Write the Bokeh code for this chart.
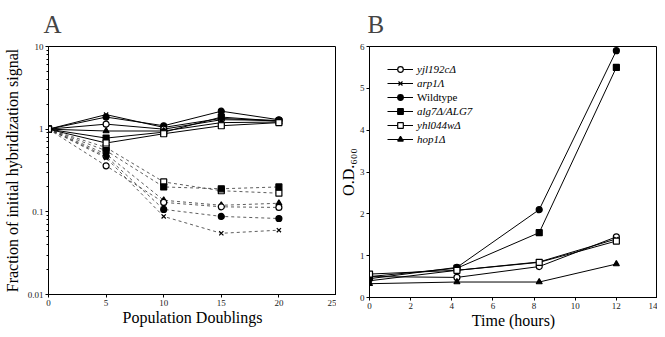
from bokeh.plotting import figure
from bokeh.layouts import row
from bokeh.models import FixedTicker, Legend, LegendItem
from bokeh.embed import file_html
from bokeh.resources import INLINE

SERIF = "Liberation Serif"

# ---------------- Panel A data ----------------
doublings = [0, 5, 10, 15, 20]
# solid (control) series
a_solid_cross = [1, 1.5, 1.05, 1.35, 1.25]
a_solid_fcircle = [1, 1.4, 1.1, 1.65, 1.3]
a_solid_ocircle = [1, 1.15, 1.0, 1.3, 1.28]
a_solid_triangle = [1, 0.95, 0.95, 1.2, 1.22]
a_solid_fsquare = [1, 0.78, 0.92, 1.4, 1.25]
a_solid_osquare = [1, 0.68, 0.88, 1.1, 1.2]
# dashed series
a_dash_osquare = [1, 0.6, 0.23, 0.18, 0.168]
a_dash_fsquare = [1, 0.55, 0.2, 0.19, 0.2]
a_dash_triangle = [1, 0.5, 0.138, 0.12, 0.127]
a_dash_ocircle = [1, 0.36, 0.13, 0.115, 0.113]
a_dash_fcircle = [1, 0.47, 0.107, 0.088, 0.083]
a_dash_cross = [1, 0.45, 0.088, 0.055, 0.06]

a_yticks = [0.01, 0.1, 1, 10]
a_ytick_labels = ["0.01", "0.1", "1", "10"]
a_xticks = [0, 5, 10, 15, 20, 25]

# ---------------- Panel B data ----------------
hours = [0, 4.25, 8.25, 12]
b_names = ["yjl192cΔ", "arp1Λ", "Wildtype", "alg7Δ/ALG7", "yhl044wΔ", "hop1Δ"]
b_yjl192c = [0.5, 0.48, 0.74, 1.45]
b_arp1 = [0.4, 0.65, 0.85, 1.4]
b_wildtype = [0.45, 0.72, 2.1, 5.9]
b_alg7 = [0.5, 0.7, 1.55, 5.5]
b_yhl044w = [0.56, 0.65, 0.84, 1.35]
b_hop1 = [0.33, 0.37, 0.37, 0.8]
b_xticks = [0, 2, 4, 6, 8, 10, 12, 14]
b_yticks = [0, 1, 2, 3, 4, 5, 6]

MARKERS = {
    "ocircle": ("circle", "white"),
    "fcircle": ("circle", "black"),
    "cross": ("x", "black"),
    "fsquare": ("square", "black"),
    "osquare": ("square", "white"),
    "triangle": ("triangle", "black"),
}


def style_axes(p):
    for ax in (p.xaxis[0], p.yaxis[0]):
        ax.axis_line_color = "black"
        ax.major_tick_line_color = "black"
        ax.minor_tick_line_color = "black"
        ax.major_tick_in = 0
        ax.major_tick_out = 3
        ax.minor_tick_in = 0
        ax.minor_tick_out = 2
        ax.major_label_text_font = SERIF
        ax.major_label_text_font_size = "9px"
        ax.major_label_text_color = "#222222"
        ax.major_label_standoff = 2
        ax.axis_label_text_font = SERIF
        ax.axis_label_text_font_size = "16px"
        ax.axis_label_text_font_style = "normal"
        ax.axis_label_text_color = "black"
        ax.axis_label_standoff = 0
    p.xgrid.visible = False
    p.ygrid.visible = False
    p.outline_line_color = "black"
    p.outline_line_width = 1
    p.title.text_font = SERIF
    p.title.text_font_size = "25px"
    p.title.text_font_style = "normal"
    p.title.align = "left"
    p.title.standoff = 17


def series(p, x, y, kind, dash="solid", size=6, lw=1, color="black"):
    marker, fill = MARKERS[kind]
    ln = p.line(x, y, line_color=color, line_width=lw, line_dash=dash)
    sc = p.scatter(x, y, marker=marker, size=size, fill_color=fill,
                   line_color="black", line_width=1.2)
    return ln, sc


# ---------------- Panel A ----------------
pA = figure(frame_width=288, frame_height=248, output_backend="svg",
            toolbar_location=None,
            x_range=(0, 25), y_range=(0.01, 10), y_axis_type="log",
            title="A", min_border_left=0, min_border_right=0,
            min_border_top=0, min_border_bottom=0)
style_axes(pA)
pA.title.offset = -5
pA.xaxis.ticker = FixedTicker(ticks=a_xticks)
pA.xaxis.minor_tick_line_color = None
minor = []
for d in [0.01, 0.1, 1]:
    minor += [d * k for k in range(2, 10)]
pA.yaxis.ticker = FixedTicker(ticks=a_yticks, minor_ticks=minor)
pA.yaxis.major_label_overrides = {t: s for t, s in zip(a_yticks, a_ytick_labels)}
pA.xaxis.axis_label = "Population Doublings"
pA.yaxis.axis_label = "Fraction of initial hybridization signal"
pA.yaxis.axis_label_standoff = 4

dash = "3 3"
for ys, k in [(a_dash_osquare, "osquare"), (a_dash_fsquare, "fsquare"),
              (a_dash_triangle, "triangle"), (a_dash_ocircle, "ocircle"),
              (a_dash_fcircle, "fcircle"), (a_dash_cross, "cross")]:
    series(pA, doublings, ys, k, dash=dash, lw=0.8, color="#333333")
for ys, k in [(a_solid_cross, "cross"), (a_solid_fcircle, "fcircle"),
              (a_solid_ocircle, "ocircle"), (a_solid_triangle, "triangle"),
              (a_solid_fsquare, "fsquare"), (a_solid_osquare, "osquare")]:
    series(pA, doublings, ys, k)

# ---------------- Panel B ----------------
pB = figure(frame_width=288, frame_height=251, output_backend="svg",
            toolbar_location=None,
            x_range=(0, 14), y_range=(0, 6), title="B",
            min_border_left=0, min_border_right=0,
            min_border_top=0, min_border_bottom=0)
style_axes(pB)
pB.title.offset = -2
pB.xaxis.ticker = FixedTicker(ticks=b_xticks)
pB.yaxis.ticker = FixedTicker(ticks=b_yticks)
pB.xaxis.minor_tick_line_color = None
pB.yaxis.minor_tick_line_color = None
pB.xaxis.axis_label = "Time (hours)"
pB.yaxis.axis_label = "O.D.₆₀₀"

b_series = [(b_yjl192c, "ocircle"), (b_arp1, "cross"), (b_wildtype, "fcircle"),
            (b_alg7, "fsquare"), (b_yhl044w, "osquare"), (b_hop1, "triangle")]
items = []
for (ys, k), name in zip(b_series, b_names):
    ln, sc = series(pB, hours, ys, k)
    items.append(LegendItem(label=name, renderers=[ln, sc]))


def make_legend(its, loc, style):
    lg = Legend(items=its, location=loc, label_text_font=SERIF,
                label_text_font_size="11px", label_text_font_style=style,
                label_text_color="black",
                glyph_width=26, glyph_height=14, label_height=14,
                label_standoff=4, spacing=0, padding=0, margin=0,
                border_line_alpha=0, background_fill_alpha=0)
    pB.add_layout(lg, "center")


make_legend(items[0:2], (18, 207), "italic")
make_legend(items[2:3], (18, 193), "normal")
make_legend(items[3:6], (18, 151), "italic")

layout = row(pA, pB)
open("out.html", "w").write(file_html(layout, INLINE))
